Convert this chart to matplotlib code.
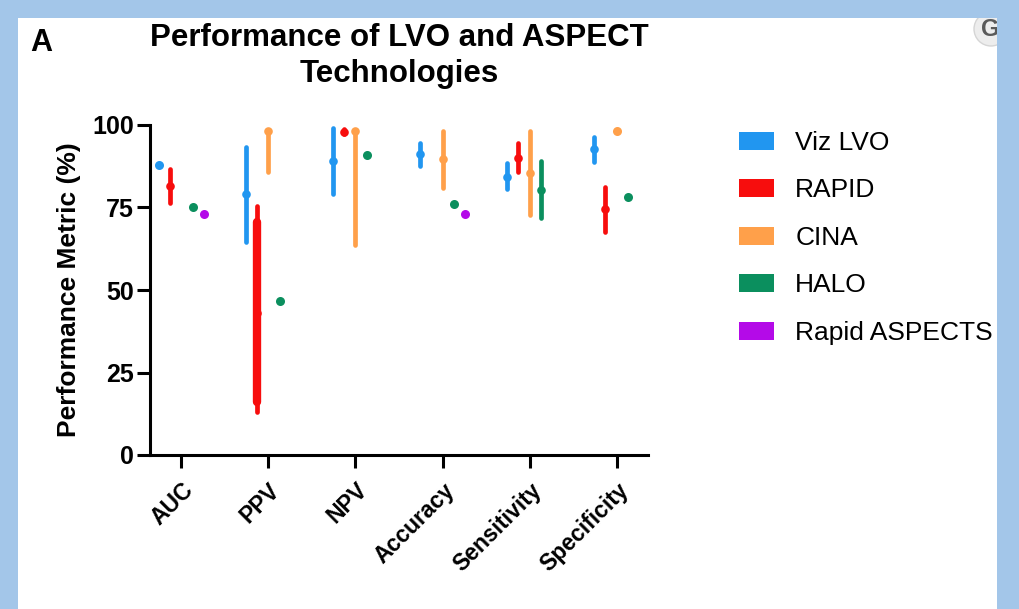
import numpy as np
import matplotlib
matplotlib.use("Agg")
import matplotlib.pyplot as plt
from matplotlib.patches import Patch, Rectangle, Circle
from matplotlib.transforms import IdentityTransform

plt.rcParams['font.family'] = ['Liberation Sans', 'DejaVu Sans']

nan = np.nan
metrics = ["AUC", "PPV", "NPV", "Accuracy", "Sensitivity", "Specificity"]
series = ["Viz LVO", "RAPID", "CINA", "HALO", "Rapid ASPECTS"]
colors = ["#2196F0", "#F70D0D", "#FFA04A", "#0B8F5E", "#B40AE8"]

viz_mid = [88, 79, 89, 91.2, 84.2, 92.7]
viz_low = [88, 64.5, 79, 87.5, 80.6, 88.8]
viz_high = [88, 93.3, 99, 94.5, 88.5, 96.4]

rapid_mid = [81.5, 43, 98, nan, 90, 74.5]
rapid_low = [76.5, 13, 97.3, nan, 85.8, 67.6]
rapid_high = [86.7, 75.5, 98.7, nan, 94.5, 81.2]
rapid_dense_low = [nan, 16, nan, nan, nan, nan]
rapid_dense_high = [nan, 70.5, nan, nan, nan, nan]

cina_mid = [nan, 98.2, 98.2, 89.7, 85.5, 98.2]
cina_low = [nan, 85.8, 63.6, 80.9, 72.7, 98.2]
cina_high = [nan, 98.2, 98.2, 98.2, 98.2, 98.2]

halo_mid = [75.2, 46.8, 90.9, 76, 80.3, 78.2]
halo_low = [75.2, 46.8, 90.9, 76, 71.8, 78.2]
halo_high = [75.2, 46.8, 90.9, 76, 89.1, 78.2]

ra_mid = [73.1, nan, nan, 73.1, nan, nan]
ra_low = [73.1, nan, nan, 73.1, nan, nan]
ra_high = [73.1, nan, nan, 73.1, nan, nan]

mids = [viz_mid, rapid_mid, cina_mid, halo_mid, ra_mid]
lows = [viz_low, rapid_low, cina_low, halo_low, ra_low]
highs = [viz_high, rapid_high, cina_high, halo_high, ra_high]

W, H = 1020, 609
fig = plt.figure(figsize=(W / 100, H / 100), dpi=100)
fig.patch.set_facecolor("#A3C6E9")
# white panel
panel = Rectangle((18 / W, 0), (997 - 18) / W, (H - 18) / H,
                  transform=fig.transFigure, facecolor="white",
                  edgecolor="none", zorder=-5)
fig.patches.append(panel)
# partial UI icon at top right, clipped by the panel
icon = Circle((991, H - 29), 17, transform=IdentityTransform(),
              facecolor="#EDEDED", edgecolor="#D5D5D5", lw=1, zorder=-4)
icon.set_clip_path(panel)
fig.patches.append(icon)
t_icon = fig.text(990 / W, 1 - 29 / H, "G", ha='center', va='center', fontsize=17,
                  fontweight='bold', color="#5A5A5A", zorder=-3)
t_icon.set_clip_path(panel)

ax = fig.add_axes([150 / W, 1 - 455 / H, (648 - 150) / W, (455 - 125) / H])
ax.set_facecolor("none")
ax.set_zorder(2)

step = 0.13
x0 = np.arange(len(metrics))
for j, (name, c) in enumerate(zip(series, colors)):
    xs = x0 + (j - 2) * step
    for i in range(len(metrics)):
        m, lo, hi = mids[j][i], lows[j][i], highs[j][i]
        if np.isnan(m):
            continue
        if hi - lo > 0.5:
            ax.plot([xs[i], xs[i]], [lo, hi], color=c, lw=3.4,
                    solid_capstyle='round', clip_on=False, zorder=3)
            ax.plot([xs[i]], [m], marker='o', ms=6.2, color=c, mec='none',
                    clip_on=False, zorder=4)
        else:
            ax.plot([xs[i]], [m], marker='o', ms=6.5, color=c, mec='none',
                    clip_on=False, zorder=4)
    if j == 1:
        for i in range(len(metrics)):
            dl, dh = rapid_dense_low[i], rapid_dense_high[i]
            if not np.isnan(dl):
                ax.plot([xs[i], xs[i]], [dl, dh], color=c, lw=6.0,
                        solid_capstyle='round', clip_on=False, zorder=3)

ax.set_xlim(-0.36, 5.36)
ax.set_ylim(0, 100)
ax.set_yticks([0, 25, 50, 75, 100])
ax.set_xticks(x0)
ax.set_xticklabels(metrics, rotation=45, ha='right', rotation_mode='anchor',
                   fontsize=16.5, fontweight='bold')
for lab in ax.get_yticklabels():
    lab.set_fontweight('bold')
ax.tick_params(axis='y', labelsize=18, width=2.2, length=9.5, pad=2)
ax.tick_params(axis='x', width=2.2, length=9.5, pad=7.5)
for s in ['top', 'right']:
    ax.spines[s].set_visible(False)
for s in ['left', 'bottom']:
    ax.spines[s].set_linewidth(2.2)

ax.set_ylabel("Performance Metric (%)", fontsize=19, fontweight='bold', labelpad=8)

fig.text(399 / W, 1 - 56 / H, "Performance of LVO and ASPECT\nTechnologies",
         ha='center', va='center', fontsize=22.5, fontweight='bold', linespacing=1.24)
fig.text(30 / W, 1 - 43 / H, "A", ha='left', va='center', fontsize=22, fontweight='bold')

handles = [Patch(facecolor=c, edgecolor='none', label=n) for n, c in zip(series, colors)]
fig.legend(handles=handles, loc='upper left', bbox_to_anchor=(739 / W, 1 - 131 / H),
           frameon=False, fontsize=19, handlelength=1.33, handleheight=0.66,
           handletextpad=0.8, labelspacing=0.89, borderpad=0, borderaxespad=0)

fig.savefig("out.png", dpi=100, facecolor=fig.get_facecolor())
